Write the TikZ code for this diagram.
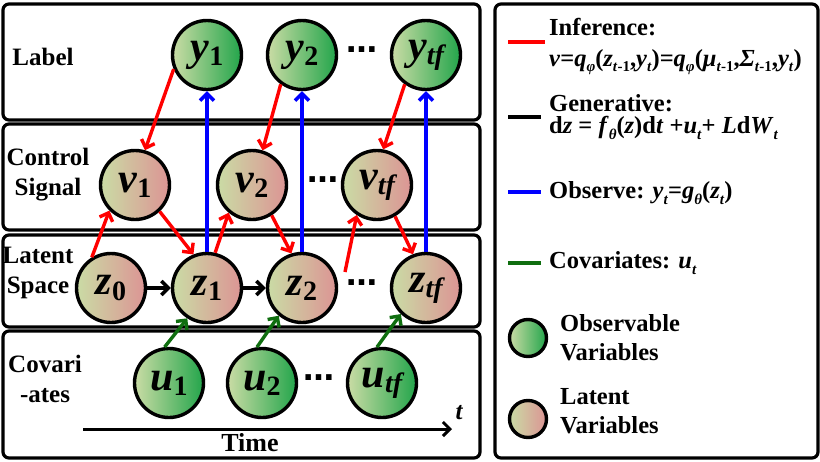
\documentclass[tikz,border=0pt]{standalone}
\usepackage{fontspec}
\setmainfont{Liberation Serif}
\newfontfamily\dotfont{DejaVu Sans}
\usetikzlibrary{arrows.meta}
\definecolor{lgreen}{RGB}{202,220,165}
\definecolor{dgreen}{RGB}{35,165,75}
\definecolor{pinkr}{RGB}{220,148,148}
\definecolor{cgreen}{RGB}{15,110,15}
\newcommand\nodefont{\fontsize{42}{42}\selectfont\bfseries\itshape}
\newcommand\nv[2]{#1\raisebox{-0.12em}{\fontsize{28}{28}\selectfont #2}}
\newcommand\sbs[1]{\raisebox{-0.22em}{\fontsize{15}{15}\selectfont #1}}
\tikzset{
  panel/.style={draw, line width=3.2pt, rounded corners=6pt},
  obs/.style={circle, draw, line width=3.4pt, minimum size=69pt, inner sep=0pt,
    left color=lgreen, right color=dgreen, font=\nodefont},
  lat/.style={circle, draw, line width=3.4pt, minimum size=69pt, inner sep=0pt,
    left color=lgreen, right color=pinkr, font=\nodefont},
  tip/.style={-{Straight Barb[length=7pt,width=14pt]}},
  infarr/.style={tip, red, line width=3.4pt},
  genarr/.style={tip, black, line width=3.4pt},
  obsarr/.style={tip, blue, line width=3.4pt},
  covarr/.style={tip, cgreen, line width=3.4pt},
  lbl/.style={font=\fontsize{25}{30}\selectfont\bfseries, align=center},
  lt/.style={font=\fontsize{24.5}{29}\selectfont\bfseries, anchor=west, inner sep=0pt, align=left},
  dots/.style={font=\dotfont\fontsize{31}{31}\selectfont\bfseries},
  swatch/.style={line width=3.6pt}
}
\begin{document}
\begin{tikzpicture}[x=1pt, y=-1pt]
\useasboundingbox (0,0) rectangle (820,461);
% panels
\draw[panel] (3,4) rectangle (480,120);
\draw[panel] (3,124) rectangle (480,230);
\draw[panel] (3,235) rectangle (480,327);
\draw[panel] (3,331) rectangle (480,458);
\draw[panel] (495,4) rectangle (818,458);
% row labels
\node[lbl] (lLabel) at (43,57) {Label};
\node[lbl] (lCtrl) at (48,175) {Control\\Signal};
\node[lbl] (lLat) at (38,273) {Latent\\Space};
\node[lbl] (lCov) at (45,379) {Covari\\-ates};
% nodes
\node[obs] (y1) at (207,55) {\nv{y}{\upshape 1}};
\node[obs] (y2) at (302,55) {\nv{y}{\upshape 2}};
\node[obs] (yt) at (426,55) {\nv{y}{tf}};
\node[dots] (d1) at (362,50) {…};
\node[lat] (v1) at (135,185) {\nv{v}{\upshape 1}};
\node[lat] (v2) at (252,185) {\nv{v}{\upshape 2}};
\node[lat] (vt) at (377,185) {\nv{v}{tf}};
\node[dots] (d2) at (323,180) {…};
\node[lat] (z0) at (111,288) {\nv{z}{\upshape 0}};
\node[lat] (z1) at (207,288) {\nv{z}{\upshape 1}};
\node[lat] (z2) at (302,288) {\nv{z}{\upshape 2}};
\node[lat] (zt) at (426,288) {\nv{z}{tf}};
\node[dots] (d3) at (362,283) {…};
\node[obs] (u1) at (169,383) {\nv{u}{\upshape 1}};
\node[obs] (u2) at (262,383) {\nv{u}{\upshape 2}};
\node[obs] (ut) at (382,383) {\nv{u}{tf}};
\node[dots] (d4) at (319,378) {…};
% inference arrows
\draw[infarr] (y1.203) -- (v1.74);
\draw[infarr] (y2.234) -- (v2.73);
\draw[infarr] (yt.234) -- (vt.80);
\draw[infarr] (z0.122) -- (v1.225);
\draw[infarr] (v1.-47) -- (z1.112);
\draw[infarr] (z1.77) -- (v2.230);
\draw[infarr] (v2.-57) -- (z2.107);
\coordinate (r0) at (345,272);
\draw[infarr] (r0) -- (vt.236);
\draw[infarr] (vt.-60) -- (zt.111);
% observe arrows
\draw[obsarr] (z1) -- (y1);
\draw[obsarr] (z2) -- (y2);
\draw[obsarr] (zt) -- (yt);
% generative arrows
\draw[genarr] (z0) -- (z1);
\draw[genarr] (z1) -- (z2);
% covariates arrows
\draw[covarr] (u1.97) -- (z1.237);
\draw[covarr] (u2.98) -- (z2.230);
\draw[covarr] (ut.98) -- (zt.226);
% time axis
\coordinate (ta) at (83,429);
\coordinate (tb) at (452,429);
\draw[genarr, line width=3pt] (ta) -- (tb);
\node[font=\fontsize{25}{25}\selectfont\bfseries\itshape] (tt) at (459,413) {t};
\node[font=\fontsize{26}{26}\selectfont\bfseries] (time) at (250,443) {Time};
% legend
\draw[swatch, red] (508,42) -- (545,42);
\node[lt] (inf) at (549,27) {Inference:};
\node[lt] (inff) at (549,62) {\textit{v}=\textit{q}\sbs{\textit{φ}}(\textit{z}\sbs{\textit{t}-1},\textit{y}\sbs{\textit{t}})=\textit{q}\sbs{\textit{φ}}(\textit{μ}\sbs{\textit{t}-1},\textit{Σ}\sbs{\textit{t}-1},\textit{y}\sbs{\textit{t}})};
\draw[swatch, black] (508,117) -- (541,117);
\node[lt] (gen) at (549,103) {Generative:};
\node[lt] (genf) at (549,128) {d\textit{z} = \textit{f}\sbs{\textit{θ}}(\textit{z})d\textit{t} +\textit{u}\sbs{\textit{t}}+ \textit{L}d\textit{W}\sbs{\textit{t}}};
\draw[swatch, blue] (508,192) -- (541,192);
\node[lt] (obsl) at (549,193) {Observe: \textit{y}\sbs{\textit{t}}=\textit{g}\sbs{\textit{θ}}(\textit{z}\sbs{\textit{t}})};
\draw[swatch, cgreen] (508,263) -- (541,263);
\node[lt] (covl) at (549,263) {Covariates: \textit{u}\sbs{\textit{t}}};
\node[obs, minimum size=37pt] (lo) at (528,338) {};
\node[lt] (lot) at (560,338) {Observable\\Variables};
\node[lat, minimum size=37pt] (ll) at (528,419) {};
\node[lt] (llt) at (560,411) {Latent\\Variables};
\end{tikzpicture}
\end{document}
